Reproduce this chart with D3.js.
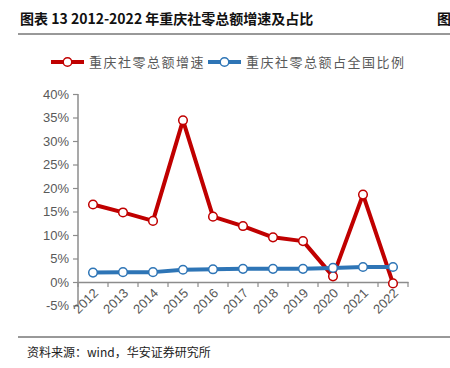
<!DOCTYPE html>
<html>
<head>
<meta charset="utf-8">
<script src="https://cdn.jsdelivr.net/npm/d3@7"></script>
<style>
  body { margin: 0; background: #fff; }
  svg { display: block; }
</style>
</head>
<body>
<svg id="svg1" width="450" height="368"></svg>
<script>
// data
var years = ["2012","2013","2014","2015","2016","2017","2018","2019","2020","2021","2022"];
var growth = [16.5, 14.8, 13.0, 34.4, 13.9, 11.9, 9.5, 8.7, 1.2, 18.6, -0.3];
var share = [2.0, 2.1, 2.1, 2.6, 2.7, 2.8, 2.8, 2.8, 3.0, 3.2, 3.2];
var yTicks = [-5, 0, 5, 10, 15, 20, 25, 30, 35, 40];
var seriesNames = ["重庆社零总额增速", "重庆社零总额占全国比例"];
var seriesColors = ["#C00000", "#2E75B6"];

var svg = d3.select("#svg1");
var cjk = "'Noto Sans CJK SC', sans-serif";
var latin = "Arial, 'Liberation Sans', sans-serif";

// title
svg.append("text").attr("x", 20).attr("y", 24)
  .attr("font-family", cjk).attr("font-size", 14).attr("font-weight", "bold").attr("fill", "#111")
  .text("图表 13 2012-2022 年重庆社零总额增速及占比");
svg.append("text").attr("x", 437).attr("y", 24)
  .attr("font-family", cjk).attr("font-size", 14).attr("font-weight", "bold").attr("fill", "#111")
  .text("图");
svg.append("line").attr("x1", 18).attr("x2", 450).attr("y1", 34).attr("y2", 34)
  .attr("stroke", "#333").attr("stroke-width", 1);

// scales
var x = d3.scaleBand().domain(years).range([78, 408]);
var y = d3.scaleLinear().domain([-5, 40]).range([305.5, 94]);

// y axis
var yAxis = svg.append("g").attr("transform", "translate(78,0)")
  .call(d3.axisLeft(y).tickValues(yTicks).tickSize(5).tickFormat(function(d){ return d + "%"; }));
yAxis.select(".domain").attr("stroke", "#8c8c8c").attr("stroke-width", 1.5).attr("d", "M0,94V305.5");
yAxis.selectAll(".tick line").attr("stroke", "#8c8c8c").attr("stroke-width", 1.2);
yAxis.selectAll(".tick text").attr("font-family", latin).attr("font-size", 13).attr("fill", "#595959").attr("x", -9);

// x axis at 0
var xAxis = svg.append("g").attr("transform", "translate(0," + y(0) + ")")
  .call(d3.axisBottom(x).tickSize(0));
xAxis.select(".domain").attr("stroke", "#8c8c8c").attr("stroke-width", 1.5);
xAxis.selectAll(".tick text")
  .attr("font-family", latin).attr("font-size", 13).attr("fill", "#595959")
  .attr("text-anchor", "end").attr("dy", 0).attr("y", 0)
  .attr("transform", "translate(6,12) rotate(-45)");
// boundary ticks
var bounds = years.map(function(d){ return x(d); }).concat([x.range()[1]]);
svg.append("g").selectAll("line").data(bounds).join("line")
  .attr("x1", function(d){ return d; }).attr("x2", function(d){ return d; })
  .attr("y1", y(0)).attr("y2", y(0) + 5)
  .attr("stroke", "#8c8c8c").attr("stroke-width", 1.2);

// lines
var cx = function(d, i){ return x(years[i]) + x.bandwidth() / 2; };
var series = [growth, share];
series.forEach(function(vals, k){
  var line = d3.line().x(function(d, i){ return cx(d, i); }).y(function(d){ return y(d); });
  svg.append("path").datum(vals).attr("d", line)
    .attr("fill", "none").attr("stroke", seriesColors[k]).attr("stroke-width", 4)
    .attr("stroke-linejoin", "round");
});
series.forEach(function(vals, k){
  svg.append("g").selectAll("circle").data(vals).join("circle")
    .attr("cx", cx).attr("cy", function(d){ return y(d); }).attr("r", 4.3)
    .attr("fill", "#fff").attr("stroke", seriesColors[k]).attr("stroke-width", 1.5);
});

// legend
var legendX = [51, 208];
seriesNames.forEach(function(name, k){
  var g = svg.append("g").attr("transform", "translate(" + legendX[k] + ",62)");
  g.append("line").attr("x1", 0).attr("x2", 33).attr("y1", 0).attr("y2", 0)
    .attr("stroke", seriesColors[k]).attr("stroke-width", 4);
  g.append("circle").attr("cx", 16.5).attr("cy", 0).attr("r", 4.3)
    .attr("fill", "#fff").attr("stroke", seriesColors[k]).attr("stroke-width", 1.5);
  g.append("text").attr("x", 38).attr("y", 4.5)
    .attr("font-family", cjk).attr("font-size", 13).attr("fill", "#595959")
    .attr("letter-spacing", 1.5)
    .text(name);
});

// footer
svg.append("line").attr("x1", 18).attr("x2", 450).attr("y1", 337).attr("y2", 337)
  .attr("stroke", "#333").attr("stroke-width", 1);
svg.append("text").attr("x", 27).attr("y", 357)
  .attr("font-family", cjk).attr("font-size", 12).attr("fill", "#222")
  .text("资料来源：wind，华安证券研究所");
</script>
</body>
</html>
